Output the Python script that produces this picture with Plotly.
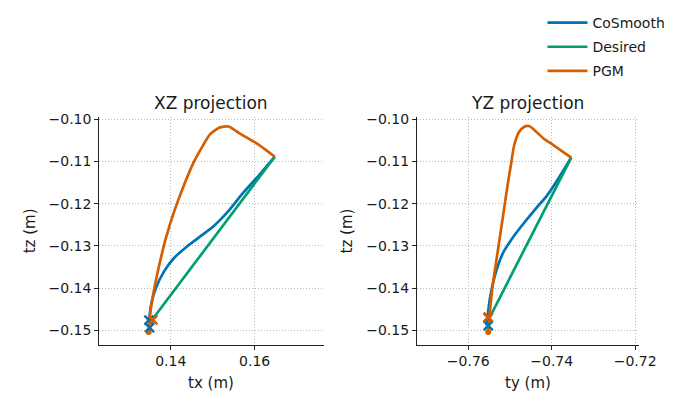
import plotly.graph_objects as go

# ---- data ----
cos_tx = [0.13473, 0.13535, 0.13651, 0.13845, 0.14078, 0.14388, 0.14698, 0.15008, 0.15357, 0.15705, 0.16093, 0.16481]
cos_tz = [-0.14844, -0.14377, -0.13988, -0.13598, -0.13287, -0.13014, -0.12780, -0.12547, -0.12196, -0.11768, -0.11340, -0.10888]
cos_ty = [-0.75563, -0.75484, -0.75367, -0.75172, -0.74977, -0.74742, -0.74391, -0.74117, -0.73805, -0.73531]
cos_tz2 = [-0.14885, -0.14263, -0.13720, -0.13176, -0.12865, -0.12554, -0.12127, -0.11816, -0.11350, -0.10907]

des_tx = [0.13574, 0.16481]
des_tz = [-0.14727, -0.10888]
des_ty = [-0.75484, -0.73531]
des_tz2 = [-0.14691, -0.10907]

pgm_tx = [0.13473, 0.13519, 0.13612, 0.13729, 0.13884, 0.14078, 0.14310, 0.14543, 0.14736, 0.14930, 0.15163, 0.15380, 0.15628, 0.16093, 0.16481]
pgm_tz = [-0.15039, -0.14533, -0.13988, -0.13442, -0.12819, -0.12196, -0.11573, -0.11028, -0.10678, -0.10366, -0.10195, -0.10171, -0.10327, -0.10600, -0.10888]
pgm_ty = [-0.75523, -0.75484, -0.75406, -0.75289, -0.75172, -0.75055, -0.74977, -0.74898, -0.74781, -0.74664, -0.74547, -0.74469, -0.74195, -0.73961, -0.73531]
pgm_tz2 = [-0.15040, -0.14574, -0.13875, -0.13098, -0.12321, -0.11544, -0.11078, -0.10611, -0.10299, -0.10184, -0.10161, -0.10207, -0.10456, -0.10611, -0.10907]

# final-position markers (x symbols)
cos_marks_xz = ([0.13496, 0.13480], [-0.14938, -0.14760])
pgm_marks_xz = ([0.13574], [-0.14751])
cos_marks_yz = ([-0.75523, -0.75523], [-0.14890, -0.14700])
pgm_marks_yz = ([-0.75523], [-0.14690])

names = ["CoSmooth", "Desired", "PGM"]
colors = ["#0173B2", "#029E73", "#D55E00"]

ytick_vals = [-0.10, -0.11, -0.12, -0.13, -0.14, -0.15]
ytick_text = ["\u22120.10", "\u22120.11", "\u22120.12", "\u22120.13", "\u22120.14", "\u22120.15"]
xz_tick_vals = [0.14, 0.16]
xz_tick_text = ["0.14", "0.16"]
yz_tick_vals = [-0.76, -0.74, -0.72]
yz_tick_text = ["\u22120.76", "\u22120.74", "\u22120.72"]

FONT = "DejaVu Sans"
TXT = "#1a1a1a"
W, H = 697, 395


def px(x):
    return x / W


def py(y):
    return 1 - y / H


fig = go.Figure()

series_xz = [(cos_tx, cos_tz), (des_tx, des_tz), (pgm_tx, pgm_tz)]
series_yz = [(cos_ty, cos_tz2), (des_ty, des_tz2), (pgm_ty, pgm_tz2)]
shapes = ["spline", "linear", "spline"]

for i, (xs, ys) in enumerate(series_xz):
    fig.add_trace(go.Scatter(x=xs, y=ys, mode="lines", name=names[i],
                             line=dict(color=colors[i], width=2.7, shape=shapes[i], smoothing=0.6),
                             legendgroup=names[i], showlegend=True,
                             xaxis="x", yaxis="y"))
for i, (xs, ys) in enumerate(series_yz):
    fig.add_trace(go.Scatter(x=xs, y=ys, mode="lines", name=names[i],
                             line=dict(color=colors[i], width=2.7, shape=shapes[i], smoothing=0.6),
                             legendgroup=names[i], showlegend=False,
                             xaxis="x2", yaxis="y2"))

for ax, (sx, sy), cm, pm in [("", (pgm_tx[0], pgm_tz[0]), cos_marks_xz, pgm_marks_xz),
                             ("2", (pgm_ty[0], pgm_tz2[0]), cos_marks_yz, pgm_marks_yz)]:
    fig.add_trace(go.Scatter(x=[sx], y=[sy], mode="markers", showlegend=False,
                             marker=dict(color=colors[2], size=6, symbol="circle"),
                             xaxis="x" + ax, yaxis="y" + ax))
    fig.add_trace(go.Scatter(x=cm[0], y=cm[1], mode="markers", showlegend=False,
                             marker=dict(symbol="x-thin", size=9, line=dict(color=colors[0], width=2.5)),
                             xaxis="x" + ax, yaxis="y" + ax))
    fig.add_trace(go.Scatter(x=pm[0], y=pm[1], mode="markers", showlegend=False,
                             marker=dict(symbol="x-thin", size=9, line=dict(color=colors[2], width=2.5)),
                             xaxis="x" + ax, yaxis="y" + ax))

axis_common = dict(showline=True, linecolor="#222", linewidth=1, ticks="outside",
                   ticklen=4, tickcolor="#222", showgrid=True, gridcolor="#b8b8b8",
                   griddash="1px,2px", gridwidth=1, zeroline=False,
                   tickfont=dict(family=FONT, size=14, color=TXT), mirror=False)

ydom = [py(344), py(113)]

fig.update_layout(
    width=W, height=H, autosize=False,
    margin=dict(l=0, r=0, t=0, b=0),
    paper_bgcolor="white", plot_bgcolor="white",
    font=dict(family=FONT, size=14, color=TXT),
    xaxis=dict(domain=[px(101.7), px(331.7)], range=[0.12295, 0.17644],
               tickvals=xz_tick_vals, ticktext=xz_tick_text, anchor="y", **axis_common),
    yaxis=dict(domain=ydom, range=[-0.15340, -0.09937],
               tickvals=ytick_vals, ticktext=ytick_text, anchor="x", **axis_common),
    xaxis2=dict(domain=[px(427.3), px(655)], range=[-0.77233, -0.71906],
                tickvals=yz_tick_vals, ticktext=yz_tick_text, anchor="y2", **axis_common),
    yaxis2=dict(domain=ydom, range=[-0.15340, -0.09937],
                tickvals=ytick_vals, ticktext=ytick_text, anchor="x2", **axis_common),
    legend=dict(x=px(556), y=py(2), xanchor="left", yanchor="top",
                bgcolor="rgba(0,0,0,0)", font=dict(family=FONT, size=14, color=TXT),
                tracegroupgap=3, itemwidth=40),
    showlegend=True,
)

annos = [
    dict(text="XZ projection", x=px(216.7), y=py(99), size=17),
    dict(text="YZ projection", x=px(541), y=py(99), size=17),
    dict(text="tx (m)", x=px(216.7), y=py(383), size=15),
    dict(text="ty (m)", x=px(541), y=py(383), size=15),
    dict(text="tz (m)", x=px(31), y=py(229), size=15, textangle=-90),
    dict(text="tz (m)", x=px(356), y=py(229), size=15, textangle=-90),
]
for a in annos:
    fig.add_annotation(xref="paper", yref="paper", showarrow=False,
                       xanchor="center", yanchor="middle",
                       text=a["text"], x=a["x"], y=a["y"],
                       textangle=a.get("textangle", 0),
                       font=dict(family=FONT, color=TXT, size=a["size"]))

fig.write_html(
    "out.html",
    config={"responsive": False, "displayModeBar": False},
    post_script="document.body.style.margin='0px';document.body.style.overflow='hidden';",
)
